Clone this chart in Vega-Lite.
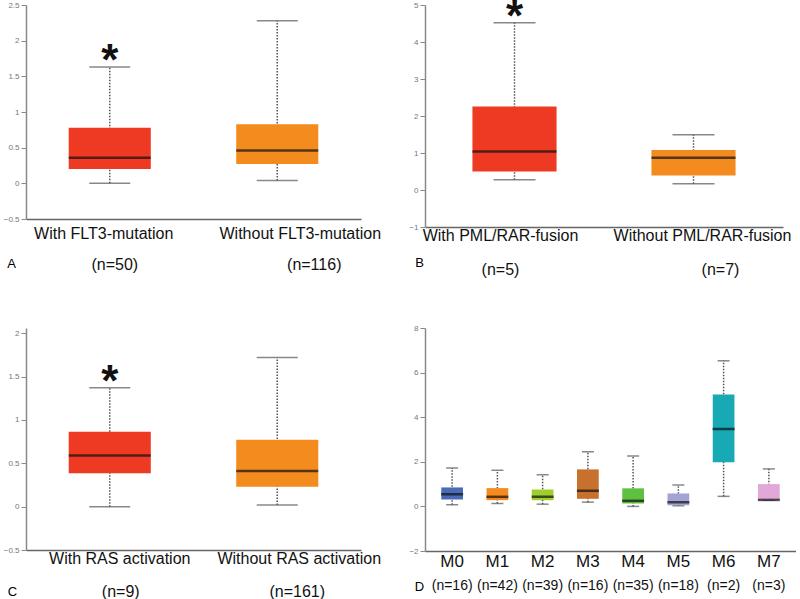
{
  "$schema": "https://vega.github.io/schema/vega-lite/v6.json",
  "background": "white",
  "padding": {"left": 3, "top": -7, "right": 0, "bottom": 0},
  "bounds": "flush",
  "columns": 2,
  "spacing": {"row": 101, "column": 64},
  "resolve": {"scale": {"x": "independent", "y": "independent", "color": "independent"}},
  "config": {
    "view": {"stroke": null},
    "font": "Liberation Sans",
    "axisY": {"domainColor": "#888", "domainWidth": 1.5, "tickColor": "#888", "tickSize": 5, "tickWidth": 1, "labelColor": "#777", "labelFontSize": 8, "labelPadding": 2, "labelOverlap": false, "labelBound": false, "labelFlush": false, "grid": false, "titleAngle": 0, "titleFontSize": 13, "titleFontWeight": "normal", "titleColor": "#000", "titleBaseline": "middle", "titleAlign": "center"},
    "axisX": {"domainColor": "#666", "domainWidth": 1.5, "ticks": false, "labelAngle": 0, "labelFontSize": 16, "labelColor": "#111", "grid": false, "labelOverlap": false, "labelBound": false, "labelFlush": false, "labelBaseline": "top"}
  },
  "datasets": {
    "A": [
      {"cat": "With FLT3-mutation|(n=50)", "lower": 0, "q1": 0.2, "median": 0.36, "q3": 0.78, "upper": 1.63, "star": "*"},
      {"cat": "Without FLT3-mutation|(n=116)", "lower": 0.04, "q1": 0.27, "median": 0.46, "q3": 0.83, "upper": 2.28, "star": ""}
    ],
    "B": [
      {"cat": "With PML/RAR-fusion|(n=5)", "lower": 0.28, "q1": 0.5, "median": 1.04, "q3": 2.26, "upper": 4.52, "star": "*"},
      {"cat": "Without PML/RAR-fusion|(n=7)", "lower": 0.17, "q1": 0.39, "median": 0.87, "q3": 1.08, "upper": 1.49, "star": ""}
    ],
    "C": [
      {"cat": "With RAS activation|(n=9)", "lower": 0, "q1": 0.385, "median": 0.59, "q3": 0.865, "upper": 1.37, "star": "*"},
      {"cat": "Without RAS activation|(n=161)", "lower": 0.02, "q1": 0.23, "median": 0.41, "q3": 0.77, "upper": 1.72, "star": ""}
    ],
    "D": [
      {"cat": "M0|(n=16)", "lower": 0.07, "q1": 0.31, "median": 0.55, "q3": 0.85, "upper": 1.72},
      {"cat": "M1|(n=42)", "lower": 0.13, "q1": 0.28, "median": 0.43, "q3": 0.82, "upper": 1.62},
      {"cat": "M2|(n=39)", "lower": 0.1, "q1": 0.28, "median": 0.43, "q3": 0.76, "upper": 1.42},
      {"cat": "M3|(n=16)", "lower": 0.19, "q1": 0.34, "median": 0.7, "q3": 1.66, "upper": 2.45},
      {"cat": "M4|(n=35)", "lower": 0.0, "q1": 0.13, "median": 0.25, "q3": 0.81, "upper": 2.26},
      {"cat": "M5|(n=18)", "lower": 0.03, "q1": 0.05, "median": 0.19, "q3": 0.58, "upper": 0.96},
      {"cat": "M6|(n=2)", "lower": 0.45, "q1": 1.98, "median": 3.47, "q3": 5.02, "upper": 6.53},
      {"cat": "M7|(n=3)", "lower": 0.28, "q1": 0.27, "median": 0.29, "q3": 1.0, "upper": 1.68}
    ]
  },
  "concat": [
    {
      "width": 335, "height": 214,
      "data": {"name": "A"},
      "resolve": {"axis": {"x": "independent"}},
      "layer": [
        {"mark": {"type": "rule", "color": "#555", "strokeWidth": 1.5, "strokeDash": [1.5, 1.5]},
         "encoding": {
           "x": {"field": "cat", "type": "nominal", "sort": null, "scale": {"paddingInner": 0, "paddingOuter": 0}, "axis": {"orient": "bottom", "title": null, "labelExpr": "substring(datum.label, 0, indexof(datum.label, '|'))", "labelPadding": 6, "labelOffset": {"condition": {"test": "indexof(datum.value, 'Without') == 0", "value": 23}, "value": -6}}},
           "y": {"field": "lower", "type": "quantitative", "scale": {"domain": [-0.5, 2.5], "nice": false, "zero": false}, "axis": {"values": [-0.5, 0, 0.5, 1, 1.5, 2, 2.5], "tickCount": 20, "format": "~g", "labelOverlap": false, "title": "A", "titleX": -15, "titleY": 258}},
           "y2": {"field": "upper"}}},
        {"mark": {"type": "tick", "color": "#555", "size": 41, "thickness": 1.5},
         "encoding": {"x": {"field": "cat", "type": "nominal", "sort": null, "axis": null}, "y": {"field": "lower", "type": "quantitative"}}},
        {"mark": {"type": "tick", "color": "#555", "size": 41, "thickness": 1.5},
         "encoding": {"x": {"field": "cat", "type": "nominal", "sort": null, "axis": null}, "y": {"field": "upper", "type": "quantitative"}}},
        {"mark": {"type": "bar", "width": {"band": 0.49}},
         "encoding": {"x": {"field": "cat", "type": "nominal", "sort": null, "axis": null}, "y": {"field": "q1", "type": "quantitative"}, "y2": {"field": "q3"}, "color": {"field": "cat", "type": "nominal", "sort": null, "scale": {"range": ["#ee3a23", "#f38b1f"]}, "legend": null}}},
        {"mark": {"type": "tick", "color": "#111", "size": 82, "thickness": 2.5},
         "encoding": {"x": {"field": "cat", "type": "nominal", "sort": null, "axis": null}, "y": {"field": "median", "type": "quantitative"}}},
        {"mark": {"type": "text", "fontSize": 44, "fontWeight": "bold", "dy": -5, "color": "#111"},
         "encoding": {
           "x": {"field": "cat", "type": "nominal", "sort": null, "axis": {"orient": "bottom", "title": null, "domain": false, "offset": 33, "labelPadding": 4, "labelExpr": "substring(datum.label, indexof(datum.label, '|') + 1)", "labelOffset": {"condition": {"test": "indexof(datum.value, 'Without') == 0", "value": 37}, "value": 5}}},
           "y": {"field": "upper", "type": "quantitative"},
           "text": {"field": "star"}}}
      ]
    },
    {
      "width": 358, "height": 222,
      "data": {"name": "B"},
      "resolve": {"axis": {"x": "independent"}},
      "layer": [
        {"mark": {"type": "rule", "color": "#555", "strokeWidth": 1.5, "strokeDash": [1.5, 1.5]},
         "encoding": {
           "x": {"field": "cat", "type": "nominal", "sort": null, "scale": {"paddingInner": 0, "paddingOuter": 0}, "axis": {"orient": "bottom", "title": null, "labelExpr": "substring(datum.label, 0, indexof(datum.label, '|'))", "labelPadding": 0, "labelOffset": {"condition": {"test": "indexof(datum.value, 'Without') == 0", "value": 9}, "value": -14}}},
           "y": {"field": "lower", "type": "quantitative", "scale": {"domain": [-1, 5], "nice": false, "zero": false}, "axis": {"values": [-1, 0, 1, 2, 3, 4, 5], "tickCount": 20, "format": "~g", "labelOverlap": false, "title": "B", "titleX": -6, "titleY": 257}},
           "y2": {"field": "upper"}}},
        {"mark": {"type": "tick", "color": "#555", "size": 42, "thickness": 1.5},
         "encoding": {"x": {"field": "cat", "type": "nominal", "sort": null, "axis": null}, "y": {"field": "lower", "type": "quantitative"}}},
        {"mark": {"type": "tick", "color": "#555", "size": 42, "thickness": 1.5},
         "encoding": {"x": {"field": "cat", "type": "nominal", "sort": null, "axis": null}, "y": {"field": "upper", "type": "quantitative"}}},
        {"mark": {"type": "bar", "width": {"band": 0.47}},
         "encoding": {"x": {"field": "cat", "type": "nominal", "sort": null, "axis": null}, "y": {"field": "q1", "type": "quantitative"}, "y2": {"field": "q3"}, "color": {"field": "cat", "type": "nominal", "sort": null, "scale": {"range": ["#ee3a23", "#f38b1f"]}, "legend": null}}},
        {"mark": {"type": "tick", "color": "#111", "size": 84, "thickness": 2.5},
         "encoding": {"x": {"field": "cat", "type": "nominal", "sort": null, "axis": null}, "y": {"field": "median", "type": "quantitative"}}},
        {"mark": {"type": "text", "fontSize": 44, "fontWeight": "bold", "dy": -5, "color": "#111"},
         "encoding": {
           "x": {"field": "cat", "type": "nominal", "sort": null, "axis": {"orient": "bottom", "title": null, "domain": false, "offset": 30, "labelPadding": 4, "labelExpr": "substring(datum.label, indexof(datum.label, '|') + 1)", "labelOffset": {"condition": {"test": "indexof(datum.value, 'Without') == 0", "value": 27}, "value": -14}}},
           "y": {"field": "upper", "type": "quantitative"},
           "text": {"field": "star"}}}
      ]
    },
    {
      "width": 335, "height": 222,
      "data": {"name": "C"},
      "resolve": {"axis": {"x": "independent"}},
      "layer": [
        {"mark": {"type": "rule", "color": "#555", "strokeWidth": 1.5, "strokeDash": [1.5, 1.5]},
         "encoding": {
           "x": {"field": "cat", "type": "nominal", "sort": null, "scale": {"paddingInner": 0, "paddingOuter": 0}, "axis": {"orient": "bottom", "title": null, "labelExpr": "substring(datum.label, 0, indexof(datum.label, '|'))", "labelPadding": 0, "labelOffset": {"condition": {"test": "indexof(datum.value, 'Without') == 0", "value": 22}, "value": 10}}},
           "y": {"field": "lower", "type": "quantitative", "scale": {"domain": [-0.5, 2.06], "nice": false, "zero": false}, "axis": {"values": [-0.5, 0, 0.5, 1, 1.5, 2], "tickCount": 20, "format": "~g", "labelOverlap": false, "title": "C", "titleX": -14, "titleY": 263}},
           "y2": {"field": "upper"}}},
        {"mark": {"type": "tick", "color": "#555", "size": 41, "thickness": 1.5},
         "encoding": {"x": {"field": "cat", "type": "nominal", "sort": null, "axis": null}, "y": {"field": "lower", "type": "quantitative"}}},
        {"mark": {"type": "tick", "color": "#555", "size": 41, "thickness": 1.5},
         "encoding": {"x": {"field": "cat", "type": "nominal", "sort": null, "axis": null}, "y": {"field": "upper", "type": "quantitative"}}},
        {"mark": {"type": "bar", "width": {"band": 0.49}},
         "encoding": {"x": {"field": "cat", "type": "nominal", "sort": null, "axis": null}, "y": {"field": "q1", "type": "quantitative"}, "y2": {"field": "q3"}, "color": {"field": "cat", "type": "nominal", "sort": null, "scale": {"range": ["#ee3a23", "#f38b1f"]}, "legend": null}}},
        {"mark": {"type": "tick", "color": "#111", "size": 82, "thickness": 2.5},
         "encoding": {"x": {"field": "cat", "type": "nominal", "sort": null, "axis": null}, "y": {"field": "median", "type": "quantitative"}}},
        {"mark": {"type": "text", "fontSize": 44, "fontWeight": "bold", "dy": -5, "color": "#111"},
         "encoding": {
           "x": {"field": "cat", "type": "nominal", "sort": null, "axis": {"orient": "bottom", "title": null, "domain": false, "offset": 29, "labelPadding": 4, "labelExpr": "substring(datum.label, indexof(datum.label, '|') + 1)", "labelOffset": {"condition": {"test": "indexof(datum.value, 'Without') == 0", "value": 20}, "value": 11}}},
           "y": {"field": "upper", "type": "quantitative"},
           "text": {"field": "star"}}}
      ]
    },
    {
      "width": 371, "height": 223,
      "data": {"name": "D"},
      "resolve": {"axis": {"x": "independent"}},
      "layer": [
        {"mark": {"type": "rule", "color": "#555", "strokeWidth": 1.5, "strokeDash": [1.5, 1.5]},
         "encoding": {
           "x": {"field": "cat", "type": "nominal", "sort": null, "scale": {"paddingInner": 0, "paddingOuter": 0.1}, "axis": {"orient": "bottom", "title": null, "labelExpr": "substring(datum.label, 0, indexof(datum.label, '|'))", "labelPadding": 2, "labelFontSize": 17}},
           "y": {"field": "lower", "type": "quantitative", "scale": {"domain": [-2, 8], "nice": false, "zero": false}, "axis": {"values": [-2, 0, 2, 4, 6, 8], "tickCount": 20, "format": "~g", "labelOverlap": false, "title": "D", "titleX": -6, "titleY": 258}},
           "y2": {"field": "upper"}}},
        {"mark": {"type": "tick", "color": "#555", "size": 12, "thickness": 1.5},
         "encoding": {"x": {"field": "cat", "type": "nominal", "sort": null, "axis": null}, "y": {"field": "lower", "type": "quantitative"}}},
        {"mark": {"type": "tick", "color": "#555", "size": 12, "thickness": 1.5},
         "encoding": {"x": {"field": "cat", "type": "nominal", "sort": null, "axis": null}, "y": {"field": "upper", "type": "quantitative"}}},
        {"mark": {"type": "bar", "width": {"band": 0.48}},
         "encoding": {"x": {"field": "cat", "type": "nominal", "sort": null, "axis": null}, "y": {"field": "q1", "type": "quantitative"}, "y2": {"field": "q3"}, "color": {"field": "cat", "type": "nominal", "sort": null, "scale": {"range": ["#4a6bb6", "#f68a1f", "#9fcf2f", "#c8712d", "#5ec040", "#a3a3d5", "#17a9b4", "#e2a8d7"]}, "legend": null}}},
        {"mark": {"type": "tick", "color": "#111", "size": 22, "thickness": 2.5},
         "encoding": {"x": {"field": "cat", "type": "nominal", "sort": null, "axis": {"orient": "bottom", "title": null, "domain": false, "offset": 24, "labelPadding": 3, "labelFontSize": 14, "labelExpr": "substring(datum.label, indexof(datum.label, '|') + 1)"}}, "y": {"field": "median", "type": "quantitative"}}}
      ]
    }
  ]
}
